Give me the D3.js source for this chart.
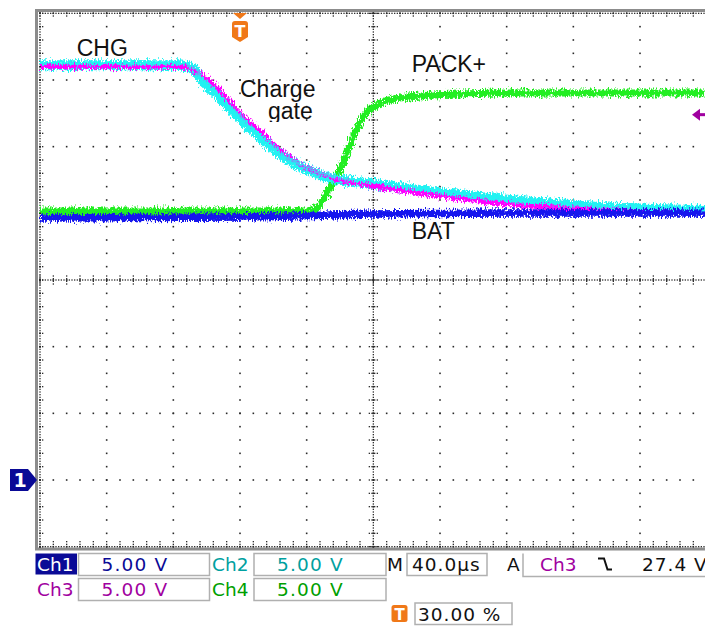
<!DOCTYPE html>
<html>
<head>
<meta charset="utf-8">
<script src="https://cdn.jsdelivr.net/npm/d3@7"></script>
<style>
  body { margin: 0; background: #fff; }
  svg { display: block; }
</style>
</head>
<body>
<svg id="scope" width="705" height="627"></svg>
<script>
// trace data, time in us (trigger = 0), volts (all grounds at the "1" marker)
const ch1_t = [-120, 0, 80, 156, 280];
const ch1_v = [19.65, 19.73, 19.95, 20.03, 20.03];

const ch2_t = [-120, -36, -27, -24, -15, -7.8, 0, 12, 24, 36, 48, 60, 80, 108, 138, 168, 216, 280];
const ch2_v = [31.1, 31.1, 30.7, 30.15, 29.1, 28.13, 27.15, 25.73, 24.45, 23.55, 22.88, 22.5, 22.2, 21.75, 21.3, 20.93, 20.48, 20.25];

const ch3_t = [-120, -33, -24, -15, -7.8, 0, 12, 24, 36, 48, 60, 80, 108, 138, 168, 216, 280];
const ch3_v = [31.0, 31.0, 30.45, 29.6, 28.65, 27.5, 26.2, 24.75, 23.7, 23.0, 22.5, 22.05, 21.5, 21.0, 20.6, 20.25, 20.1];

const ch4_t = [-120, 42, 46.2, 54, 60, 69, 75, 81, 90, 108, 132, 168, 280];
const ch4_v = [20.18, 20.18, 20.4, 21.9, 23.25, 26.03, 27.45, 28.05, 28.5, 28.8, 28.95, 29.03, 29.03];

const labels = [
  {text: "CHG", t: -98, v: 31.8},
  {text: "Charge", t: 0, v: 28.7},
  {text: "PACK+", t: 103, v: 30.6},
  {text: "BAT", t: 103, v: 18.1}
];

const chanNames = ["Ch1", "Ch2", "Ch3", "Ch4"];
const chanScale = ["5.00 V", "5.00 V", "5.00 V", "5.00 V"];
const chanColor = ["#0a0a96", "#00a0a0", "#a000a0", "#00a000"];
const timebase = "40.0\u00b5s";
const trigSource = "Ch3";
const trigLevel = "27.4 V";
const trigPos = "30.00 %";

const svg = d3.select("#scope");

const x = d3.scaleLinear().domain([-120, 280]).range([40, 706.67]);
const y = d3.scaleLinear().domain([-5, 35]).range([546.67, 13.33]);

const defs = svg.append("defs");
const f = defs.append("filter").attr("id", "rough")
  .attr("filterUnits", "userSpaceOnUse")
  .attr("x", 0).attr("y", 0).attr("width", 705).attr("height", 627);
f.append("feTurbulence").attr("type", "fractalNoise")
  .attr("baseFrequency", "1.3 0.3").attr("numOctaves", 2).attr("seed", 4).attr("result", "n");
f.append("feDisplacementMap").attr("in", "SourceGraphic").attr("in2", "n")
  .attr("scale", 10).attr("xChannelSelector", "R").attr("yChannelSelector", "G");

defs.append("clipPath").attr("id", "plotclip")
  .append("rect").attr("x", 39).attr("y", 12).attr("width", 670).attr("height", 536);
defs.append("clipPath").attr("id", "gateclip")
  .append("rect").attr("x", 200).attr("y", 100).attr("width", 200).attr("height", 22);

// frame
svg.append("rect").attr("x", 36.5).attr("y", 10.5).attr("width", 700).attr("height", 538.5)
  .attr("fill", "#fff").attr("stroke", "#8c8c8c").attr("stroke-width", 3);

// grid dots
const grid = svg.append("g").attr("fill", "#2a2a2a");
const vLines = d3.range(-120, 281, 40);
const hLines = d3.range(-5, 36, 5);
const minorT = d3.range(-120, 281, 8);
const minorV = d3.range(-5, 36, 1);

vLines.forEach(t => {
  minorV.forEach(v => grid.append("rect").attr("x", x(t) - 0.8).attr("y", y(v) - 0.8).attr("width", 1.6).attr("height", 1.6));
});
hLines.forEach(v => {
  minorT.forEach(t => grid.append("rect").attr("x", x(t) - 0.8).attr("y", y(v) - 0.8).attr("width", 1.6).attr("height", 1.6));
});

// dense axis lines (center cross and edges) with ticks
function dot(cx, cy) {
  grid.append("rect").attr("x", cx - 0.65).attr("y", cy - 0.65).attr("width", 1.3).attr("height", 1.3);
}
function denseV(t, dir) {
  d3.range(-5, 35.01, 0.2).forEach(v => dot(x(t), y(v)));
  minorV.forEach(v => {
    const x0 = dir === 0 ? x(t) - 4 : x(t);
    const x1 = dir === 0 ? x(t) + 4 : x(t) + 5;
    for (let xx = x0; xx <= x1 + 0.1; xx += 2.67) dot(xx, y(v));
  });
}
function denseH(v, dir) {
  d3.range(-120, 280.01, 1.6).forEach(t => dot(x(t), y(v)));
  minorT.forEach(t => {
    const y0 = dir === 0 ? y(v) - 4 : (dir > 0 ? y(v) : y(v) - 5);
    const y1 = dir === 0 ? y(v) + 4 : (dir > 0 ? y(v) + 5 : y(v));
    for (let yy = y0; yy <= y1 + 0.1; yy += 2.67) dot(x(t), yy);
  });
}
denseV(80, 0);
denseH(15, 0);
denseV(-120, 1);
denseH(35, 1);
denseH(-5, -1);

// traces
const line = d3.line().x(d => x(d[0])).y(d => y(d[1])).curve(d3.curveMonotoneX);
const traces = svg.append("g").attr("clip-path", "url(#plotclip)").attr("fill", "none")
  .attr("stroke-linejoin", "round");
const series = [
  {t: ch4_t, v: ch4_v, c: "#22ee22", w: 7},
  {t: ch2_t, v: ch2_v, c: "#22f2f2", w: 10},
  {t: ch3_t, v: ch3_v, c: "#ff00ff", w: 4.5},
  {t: ch1_t, v: ch1_v, c: "#1212ee", w: 7.5}
];
series.forEach(s => {
  traces.append("path")
    .attr("d", line(s.t.map((t, i) => [t, s.v[i]])))
    .attr("stroke", s.c).attr("stroke-width", s.w)
    .attr("filter", "url(#rough)");
});
// cyan top edge over magenta in the flat part
traces.append("path")
  .attr("d", line(ch2_t.map((t, i) => [t, ch2_v[i] + 0.15])))
  .attr("stroke", "#22f2f2").attr("stroke-width", 3).attr("stroke-opacity", 0.8)
  .attr("filter", "url(#rough)");

// labels
const lab = svg.append("g").attr("font-family", "Liberation Sans, Arial, sans-serif")
  .attr("font-size", 23).attr("fill", "#111");
labels.forEach(l => lab.append("text").attr("x", x(l.t)).attr("y", y(l.v)).text(l.text));
lab.append("text").attr("x", x(16.8)).attr("y", 119).attr("clip-path", "url(#gateclip)").text("gate");

// trigger position marker
const tx = x(0);
svg.append("path").attr("d", `M${tx - 7},13 H${tx + 7} L${tx},19 Z`).attr("fill", "#f07818");
svg.append("path").attr("d", `M${tx - 8},24 Q${tx - 8},21 ${tx - 5},21 H${tx + 5} Q${tx + 8},21 ${tx + 8},24 V37 L${tx},42 L${tx - 8},37 Z`)
  .attr("fill", "#f07818");
svg.append("text").attr("x", tx).attr("y", 37).attr("text-anchor", "middle")
  .attr("font-family", "DejaVu Sans, sans-serif").attr("font-weight", "bold").attr("font-size", 16)
  .attr("fill", "#fff").text("T");

// trigger level arrow (Ch3)
const ly = y(27.4);
svg.append("path").attr("d", `M692,${ly} L700,${ly - 6} L700,${ly + 6} Z`).attr("fill", chanColor[2]);
svg.append("rect").attr("x", 698).attr("y", ly - 1.5).attr("width", 8).attr("height", 3).attr("fill", chanColor[2]);

// ch1 ground marker
const gy = y(0);
svg.append("path").attr("d", `M10,${gy - 11} H28 L37,${gy} L28,${gy + 11} H10 Z`).attr("fill", chanColor[0]);
svg.append("text").attr("x", 20).attr("y", gy + 7).attr("text-anchor", "middle")
  .attr("font-family", "DejaVu Sans, sans-serif").attr("font-weight", "bold").attr("font-size", 19)
  .attr("fill", "#fff").text("1");

// status bar
const sb = svg.append("g").attr("font-family", "DejaVu Sans, sans-serif").attr("font-size", 18.5);
const rowY = [553.5, 578.5];
const colX = [36, 211];
const boxX = [78.5, 254];
const boxW = [131, 132];
chanNames.forEach((name, i) => {
  const r = Math.floor(i / 2), c = i % 2;
  if (i === 0) {
    sb.append("rect").attr("x", 35.5).attr("y", rowY[r]).attr("width", 41.5).attr("height", 21).attr("fill", chanColor[0]);
  }
  sb.append("text").attr("x", colX[c] + 1).attr("y", rowY[r] + 17.5)
    .attr("fill", i === 0 ? "#fff" : chanColor[i]).text(name);
  sb.append("rect").attr("x", boxX[c]).attr("y", rowY[r]).attr("width", boxW[c]).attr("height", 22)
    .attr("fill", "#fff").attr("stroke", "#b0b0b0").attr("stroke-width", 1.5);
  sb.append("text").attr("x", boxX[c] + 23).attr("y", rowY[r] + 17.5).attr("letter-spacing", 1.2)
    .attr("fill", chanColor[i]).text(chanScale[i]);
});
sb.append("text").attr("x", 387).attr("y", rowY[0] + 17.5).attr("fill", "#111").text("M");
sb.append("rect").attr("x", 407).attr("y", rowY[0]).attr("width", 80).attr("height", 22)
  .attr("fill", "#fff").attr("stroke", "#b0b0b0").attr("stroke-width", 1.5);
sb.append("text").attr("x", 412).attr("y", rowY[0] + 17.5).attr("letter-spacing", 1).attr("fill", "#111").text(timebase);
sb.append("text").attr("x", 507).attr("y", rowY[0] + 17.5).attr("fill", "#111").text("A");
sb.append("path").attr("d", `M523,${rowY[0]} V${rowY[0] + 23} H705`).attr("fill", "none")
  .attr("stroke", "#b0b0b0").attr("stroke-width", 1.5);
sb.append("text").attr("x", 540).attr("y", rowY[0] + 17.5).attr("fill", chanColor[2]).text(trigSource);
sb.append("path").attr("d", `M598,${rowY[0] + 5} H604 L607.5,${rowY[0] + 16} H612`).attr("fill", "none")
  .attr("stroke", "#111").attr("stroke-width", 2);
sb.append("text").attr("x", 642).attr("y", rowY[0] + 17.5).attr("letter-spacing", 1).attr("fill", "#111").text(trigLevel);

sb.append("rect").attr("x", 391.5).attr("y", 605).attr("width", 16).attr("height", 17).attr("rx", 2.5).attr("fill", "#f07818");
sb.append("text").attr("x", 399.5).attr("y", 620).attr("text-anchor", "middle").attr("font-weight", "bold")
  .attr("font-size", 15).attr("fill", "#fff").text("T");
sb.append("rect").attr("x", 415).attr("y", 603).attr("width", 97).attr("height", 21.5)
  .attr("fill", "#fff").attr("stroke", "#b0b0b0").attr("stroke-width", 1.5);
sb.append("text").attr("x", 418).attr("y", 620.5).attr("letter-spacing", 1).attr("fill", "#111").text(trigPos);
</script>
</body>
</html>
